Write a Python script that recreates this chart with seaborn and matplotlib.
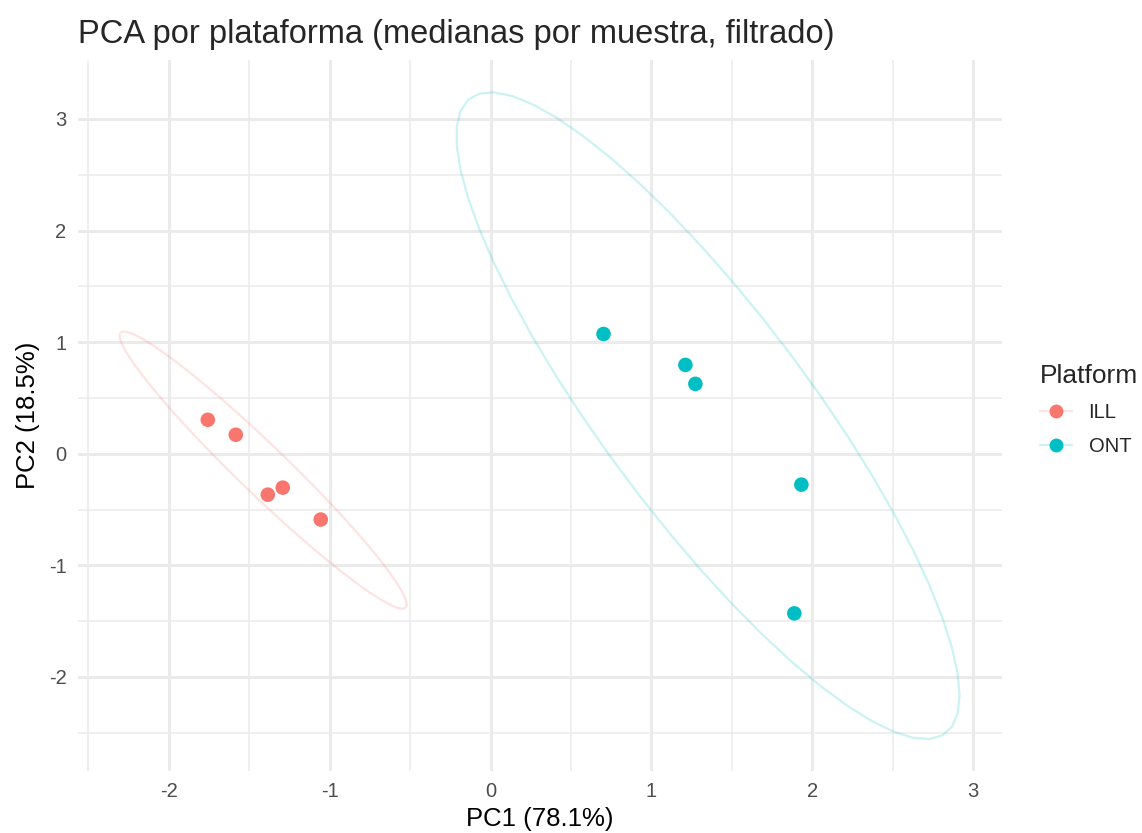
import numpy as np
import pandas as pd
import seaborn as sns
import matplotlib.pyplot as plt
import matplotlib.colors as mcolors
from matplotlib.lines import Line2D

# PCA scores
ill_pc1 = [-1.758, -1.584, -1.385, -1.292, -1.056]
ill_pc2 = [0.304, 0.170, -0.367, -0.304, -0.590]
ont_pc1 = [0.702, 1.211, 1.273, 1.932, 1.888]
ont_pc2 = [1.073, 0.796, 0.626, -0.277, -1.431]
platforms = ['ILL', 'ONT']
colors = {'ILL': '#F8766D', 'ONT': '#00BFC4'}

df = pd.DataFrame({
    'PC1': ill_pc1 + ont_pc1,
    'PC2': ill_pc2 + ont_pc2,
    'Platform': ['ILL'] * len(ill_pc1) + ['ONT'] * len(ont_pc1),
})


def cov_trob(x, nu=5, maxit=25, tol=0.01):
    # port of MASS::cov.trob (multivariate t estimate)
    n, p = x.shape
    wt = np.ones(n)
    loc = x.mean(axis=0)
    w = np.sqrt(wt)
    for _ in range(maxit):
        w0 = w
        X = x - loc
        _, d, vt = np.linalg.svd(np.sqrt(w / w.sum())[:, None] * X, full_matrices=False)
        wX = X @ vt.T @ np.diag(1 / d)
        Q = (wX ** 2).sum(axis=1)
        w = wt * (nu + p) / (nu + Q)
        loc = (w[:, None] * x).sum(axis=0) / w.sum()
        if np.all(np.abs(w - w0) < tol):
            break
    cov = (np.sqrt(w)[:, None] * X).T @ (np.sqrt(w)[:, None] * X) / wt.sum()
    return loc, cov


def ellipse_points(x, y, level=0.95, segments=51):
    # same recipe as ggplot2 stat_ellipse(type = "t")
    pts = np.column_stack([x, y])
    center, shape = cov_trob(pts)
    dfd = len(pts) - 1
    fq = (dfd / 2) * ((1 - level) ** (-2 / dfd) - 1)  # F quantile, df1 = 2
    radius = np.sqrt(2 * fq)
    t = np.linspace(0, 2 * np.pi, segments + 1)
    circle = np.column_stack([np.cos(t), np.sin(t)])
    chol = np.linalg.cholesky(shape).T  # upper triangular like R chol()
    return center + radius * circle @ chol


sns.set_theme(style='whitegrid')
plt.rcParams['font.family'] = ['Liberation Sans', 'DejaVu Sans']
plt.rcParams['axes.unicode_minus'] = False

fig = plt.figure(figsize=(11.42, 8.33), dpi=100)
ax = fig.add_axes([0.068, 0.074, 0.809, 0.854])

ells = {}
for p in platforms:
    sub = df[df['Platform'] == p]
    ells[p] = ellipse_points(sub['PC1'].values, sub['PC2'].values)
    ax.plot(ells[p][:, 0], ells[p][:, 1], color=colors[p], alpha=0.2, lw=1.6, zorder=2)

sns.scatterplot(data=df, x='PC1', y='PC2', hue='Platform', palette=colors,
                s=110, edgecolor='none', ax=ax, legend=False, zorder=3)

allx = np.concatenate([df['PC1'].values] + [e[:, 0] for e in ells.values()])
ally = np.concatenate([df['PC2'].values] + [e[:, 1] for e in ells.values()])
rx = allx.max() - allx.min()
ry = ally.max() - ally.min()
ax.set_xlim(allx.min() - 0.05 * rx, allx.max() + 0.05 * rx)
ax.set_ylim(ally.min() - 0.05 * ry, ally.max() + 0.05 * ry)

ax.set_xticks([-2, -1, 0, 1, 2, 3])
ax.set_yticks([-2, -1, 0, 1, 2, 3])
ax.set_xticks(np.arange(-2.5, 3.5, 1), minor=True)
ax.set_yticks(np.arange(-2.5, 3.5, 1), minor=True)
ax.grid(which='major', color='#EBEBEB', lw=2.2)
ax.grid(which='minor', color='#EBEBEB', lw=1.1)
ax.set_axisbelow(True)
for s in ax.spines.values():
    s.set_visible(False)
ax.tick_params(which='both', length=0, labelsize=14.5, colors='#4D4D4D', pad=8)

ax.set_xlabel('PC1 (78.1%)', fontsize=18.5, color='black', labelpad=4)
ax.set_ylabel('PC2 (18.5%)', fontsize=18.5, color='black', labelpad=6)
ax.set_title('PCA por plataforma (medianas por muestra, filtrado)', fontsize=23.5,
             loc='left', pad=12)
ax.title.set_position((-0.004, 1.0))

handles = []
for p in platforms:
    h = Line2D([0], [0], color=(*mcolors.to_rgb(colors[p]), 0.2), lw=1.6,
               marker='o', markersize=10, markeredgewidth=0,
               markerfacecolor=colors[p])
    handles.append(h)
leg = fig.legend(handles, platforms, title='Platform', loc='upper left',
                 bbox_to_anchor=(0.895, 0.585), frameon=False, fontsize=14.5,
                 title_fontsize=19, handlelength=1.6, labelspacing=0.75,
                 alignment='left')

fig.savefig('out.png', dpi=100)
